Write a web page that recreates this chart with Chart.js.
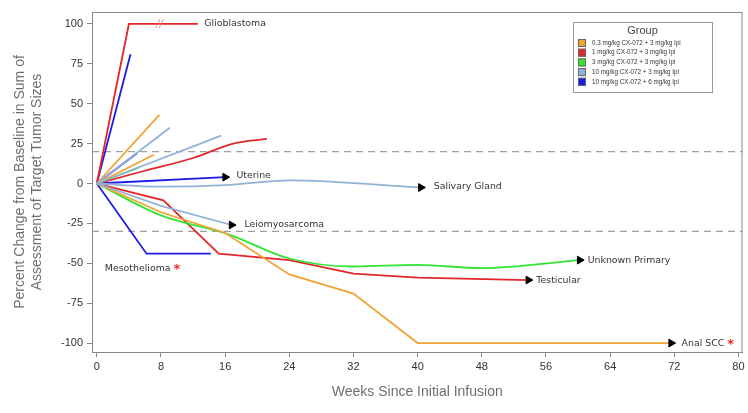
<!DOCTYPE html>
<html>
<head>
<meta charset="utf-8">
<script src="https://cdn.jsdelivr.net/npm/chart.js@4"></script>
<style>
  html, body { margin: 0; padding: 0; background: #fff; }
  #wrap { width: 748px; height: 413px; }
</style>
</head>
<body>
<div id="wrap"><canvas id="grafico"></canvas></div>
<script>
// eixos
const xTicks = [0, 8, 16, 24, 32, 40, 48, 56, 64, 72, 80];
const yTicks = [-100, -75, -50, -25, 0, 25, 50, 75, 100];
const refLines = [20, -30];

// grupos
const groups = [
  "0.3 mg/kg CX-072 + 3 mg/kg Ipi",
  "1 mg/kg CX-072 + 3 mg/kg Ipi",
  "3 mg/kg CX-072 + 3 mg/kg Ipi",
  "10 mg/kg CX-072 + 3 mg/kg Ipi",
  "10 mg/kg CX-072 + 6 mg/kg Ipi"
];
const groupColors = ["#f2a336", "#e3262c", "#33e433", "#93b1d8", "#1c1ce6"];

// cada paciente: [semana, % mudanca]
const glioblastoma = [[0, 0], [4, 100], [12.6, 100]];
const blueUp = [[0, 0], [4.2, 81]];
const orangeUp = [[0, 0], [7.8, 43]];
const ltBlueUp1 = [[0, 0], [9.1, 35]];
const ltBlueUp2 = [[0, 0], [15.5, 30]];
const redUp = [[0, 0], [6, 8], [12, 16], [17, 25], [21.2, 28]];
const orangeUp2 = [[0, 0], [7.1, 18]];
const navyUp = [[0, 0], [5, 19]];
const greenUp = [[0, 0], [5.2, 10]];
const uterine = [[0, 0], [16, 4]];
const salivary = [[0, 0], [8, -2], [16, -1], [24, 2], [40.4, -2.5]];
const leiomyosarcoma = [[0, 0], [8, -14], [16.8, -26]];
const mesothelioma = [[0, 0], [6.2, -44], [14.2, -44]];
const testicular = [[0, 0], [8.3, -10.5], [15.2, -44], [24, -48], [32, -56.5], [40, -59], [53.8, -60.5]];
const unknownPrimary = [[0, 0], [8, -20], [16.5, -32], [24, -47], [32, -52], [40, -51], [48, -53], [60.2, -48]];
const analScc = [[0, 0], [8, -18], [16, -31], [24, -57], [32, -69], [40, -100], [71.6, -100]];

// g = indice do grupo, arrow = ainda em tratamento
const patients = [
  { pts: ltBlueUp1, g: 3 },
  { pts: ltBlueUp2, g: 3 },
  { pts: salivary, g: 3, arrow: true, smooth: true },
  { pts: leiomyosarcoma, g: 3, arrow: true },
  { pts: orangeUp, g: 0 },
  { pts: orangeUp2, g: 0 },
  { pts: analScc, g: 0, arrow: true },
  { pts: greenUp, g: 2 },
  { pts: unknownPrimary, g: 2, arrow: true, smooth: true },
  { pts: redUp, g: 1, smooth: true },
  { pts: testicular, g: 1, arrow: true },
  { pts: glioblastoma, g: 1 },
  { pts: navyUp, g: 4 },
  { pts: blueUp, g: 4 },
  { pts: uterine, g: 4, arrow: true },
  { pts: mesothelioma, g: 4 }
];

const tumorLabels = [
  { text: "Glioblastoma", x: 13.4, y: 100 },
  { text: "Uterine", x: 17.4, y: 5 },
  { text: "Salivary Gland", x: 42, y: -2 },
  { text: "Leiomyosarcoma", x: 18.4, y: -26 },
  { text: "Mesothelioma", x: 1, y: -53, star: true },
  { text: "Unknown Primary", x: 61.2, y: -48 },
  { text: "Testicular", x: 54.8, y: -61 },
  { text: "Anal SCC", x: 72.9, y: -100, star: true }
];

const datasets = patients.map(p => ({
  data: p.pts.map(([x, y]) => ({ x, y })),
  borderColor: groupColors[p.g],
  borderWidth: 1.8,
  cubicInterpolationMode: p.smooth ? "monotone" : "default",
  tension: p.smooth ? 0.4 : 0,
  fill: false,
  pointStyle: "triangle",
  rotation: 90,
  pointRadius: ctx => (p.arrow && ctx.dataIndex === p.pts.length - 1) ? 4.5 : 0,
  pointBackgroundColor: "#000",
  pointBorderColor: "#000",
  pointBorderWidth: 1
}));

const extras = {
  id: "extras",
  beforeDatasetsDraw(chart) {
    const { ctx, chartArea: a, scales: { x, y } } = chart;
    ctx.save();
    ctx.strokeStyle = "#a0a0a0";
    ctx.lineWidth = 1.2;
    ctx.setLineDash([7, 5]);
    refLines.forEach(v => {
      const py = y.getPixelForValue(v);
      ctx.beginPath();
      ctx.moveTo(a.left, py);
      ctx.lineTo(a.right, py);
      ctx.stroke();
    });
    ctx.restore();
  },
  afterDraw(chart) {
    const { ctx, chartArea: a, scales: { x, y } } = chart;
    ctx.save();
    // moldura
    ctx.strokeStyle = "#8a8a8a";
    ctx.lineWidth = 1;
    ctx.strokeRect(a.left + 0.5, a.top + 0.5, a.right - a.left - 1, a.bottom - a.top);

    // marca de quebra
    ctx.fillStyle = "#f08080";
    ctx.font = "italic 10px 'DejaVu Sans'";
    ctx.textAlign = "center";
    ctx.textBaseline = "middle";
    ctx.fillText("//", x.getPixelForValue(7.8), y.getPixelForValue(100));

    // rotulos
    ctx.font = "9.4px 'DejaVu Sans'";
    ctx.textAlign = "left";
    tumorLabels.forEach(l => {
      const px = x.getPixelForValue(l.x);
      const py = y.getPixelForValue(l.y);
      ctx.fillStyle = "#333";
      ctx.fillText(l.text, px, py);
      if (l.star) {
        const w = ctx.measureText(l.text).width;
        ctx.fillStyle = "#ee2a2a";
        ctx.font = "bold 13px 'DejaVu Sans'";
        ctx.fillText("*", px + w + 3, py + 2);
        ctx.font = "9.4px 'DejaVu Sans'";
      }
    });

    // legenda
    const lx = 573, ly = 22, lw = 139, lh = 70;
    ctx.fillStyle = "#fff";
    ctx.fillRect(lx, ly, lw, lh);
    ctx.strokeStyle = "#999";
    ctx.lineWidth = 1;
    ctx.strokeRect(lx + 0.5, ly + 0.5, lw, lh);
    ctx.fillStyle = "#444";
    ctx.font = "11px 'Liberation Sans'";
    ctx.textAlign = "center";
    ctx.fillText("Group", lx + lw / 2, ly + 9);
    ctx.textAlign = "left";
    ctx.font = "6.3px 'Liberation Sans'";
    groups.forEach((gname, i) => {
      const ry = ly + 21 + i * 9.7;
      ctx.fillStyle = groupColors[i];
      ctx.fillRect(lx + 5, ry - 4, 8, 8);
      ctx.strokeStyle = "#666";
      ctx.strokeRect(lx + 5.5, ry - 3.5, 7, 7);
      ctx.fillStyle = "#333";
      ctx.fillText(gname, lx + 19, ry);
    });
    ctx.restore();
  }
};

new Chart(document.getElementById("grafico"), {
  type: "line",
  data: { datasets },
  options: {
    responsive: true,
    maintainAspectRatio: false,
    animation: false,
    layout: { padding: { top: 12, right: 3, left: 0, bottom: 0 } },
    plugins: { legend: { display: false }, tooltip: { enabled: false } },
    scales: {
      x: {
        type: "linear",
        min: -0.6,
        max: 80.5,
        afterBuildTicks: s => { s.ticks = xTicks.map(v => ({ value: v })); },
        afterFit: s => { s.height = 61; s.paddingLeft = 0; s.paddingRight = 0; },
        grid: { drawOnChartArea: false, drawTicks: true, tickLength: 5, color: "#8a8a8a" },
        border: { display: true, color: "#8a8a8a" },
        ticks: { color: "#333", font: { size: 11, family: "Liberation Sans" }, padding: 3, maxRotation: 0 },
        title: {
          display: true,
          text: "Weeks Since Initial Infusion",
          color: "#6f6f6f",
          font: { size: 14, family: "Liberation Sans" },
          padding: { top: 0, bottom: 12 }
        }
      },
      y: {
        min: -105.6,
        max: 107.5,
        afterBuildTicks: s => { s.ticks = yTicks.map(v => ({ value: v })); },
        afterFit: s => { s.width = 92; s.paddingTop = 0; s.paddingBottom = 0; },
        grid: { drawOnChartArea: false, drawTicks: true, tickLength: 5, color: "#8a8a8a" },
        border: { display: true, color: "#8a8a8a" },
        ticks: { color: "#333", font: { size: 11, family: "Liberation Sans" }, padding: 4 },
        title: {
          display: true,
          text: ["Percent Change from Baseline in Sum of", "Assessment of Target Tumor Sizes"],
          color: "#6f6f6f",
          font: { size: 14, family: "Liberation Sans", lineHeight: 1.2 },
          padding: { top: 12, bottom: 0 }
        }
      }
    }
  },
  plugins: [extras]
});
</script>
</body>
</html>
